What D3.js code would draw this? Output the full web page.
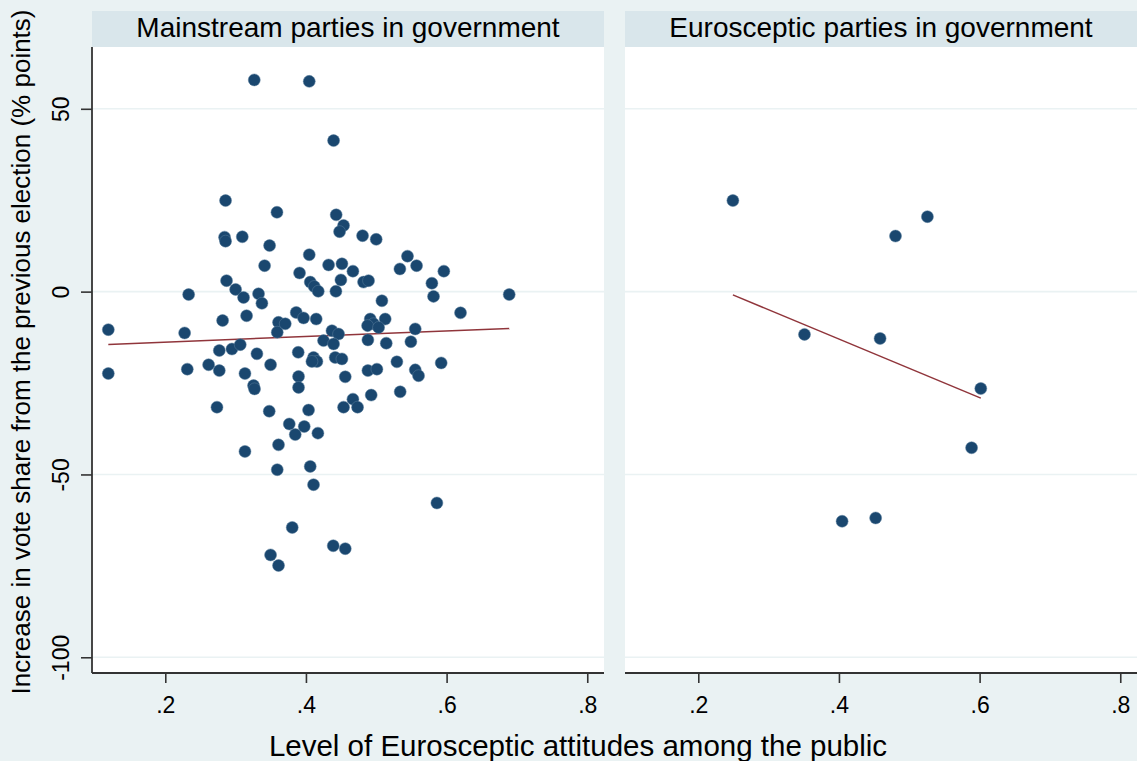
<!DOCTYPE html>
<html>
<head>
<meta charset="utf-8">
<script src="https://cdn.jsdelivr.net/npm/d3@7"></script>
<style>
  html, body { margin: 0; padding: 0; background: #EAF2F3; }
  svg { display: block; }
  text { font-family: "Liberation Sans", Arial, sans-serif; fill: #000; }
</style>
</head>
<body>
<svg id="chart" width="1137" height="761"></svg>
<script>
// Panel titles
const panels = ["Mainstream parties in government", "Eurosceptic parties in government"];

// Mainstream parties: public Euroscepticism (x) vs. change in vote share (y)
const mainX = [
  0.3265, 0.4047, 0.4393, 0.2857, 0.3588, 0.4430, 0.4535, 0.4478, 0.2843, 0.2857,
  0.3095, 0.4805, 0.4999, 0.3483, 0.4047, 0.5444, 0.3412, 0.4322, 0.4512, 0.5573,
  0.5336, 0.4668, 0.5961, 0.3909, 0.4497, 0.2871, 0.4819, 0.4890, 0.4061, 0.4118,
  0.4175, 0.4426, 0.5791, 0.3000, 0.3113, 0.2332, 0.3326, 0.3374, 0.5814, 0.5080,
  0.6890, 0.3156, 0.2815, 0.1190, 0.2275, 0.3862, 0.3966, 0.4146, 0.6198, 0.3610,
  0.3706, 0.3592, 0.4370, 0.4464, 0.4250, 0.4393, 0.5127, 0.4914, 0.4961, 0.4876,
  0.5033, 0.5554, 0.4881, 0.5142, 0.5492, 0.2768, 0.2948, 0.3066, 0.3303, 0.3890,
  0.4108, 0.4156, 0.4085, 0.4416, 0.4512, 0.2616, 0.2768, 0.2313, 0.1190, 0.3497,
  0.3133, 0.3895, 0.3895, 0.3255, 0.3269, 0.4559, 0.5293, 0.5923, 0.4881, 0.5009,
  0.5554, 0.5601, 0.4928, 0.5340, 0.4668, 0.4535, 0.4734, 0.2735, 0.3478, 0.4037,
  0.3763, 0.3976, 0.3848, 0.4170, 0.3610, 0.3133, 0.3592, 0.4061, 0.4108, 0.5862,
  0.3805, 0.4388, 0.4559, 0.3497, 0.3610
];
const mainY = [
  57.9, 57.5, 41.3, 24.9, 21.7, 21.0, 18.1, 16.4, 14.9, 13.8,
  15.0, 15.3, 14.3, 12.6, 10.1, 9.7, 7.1, 7.3, 7.6, 7.1,
  6.2, 5.6, 5.6, 5.1, 3.2, 3.0, 2.6, 3.0, 2.6, 1.4,
  0.1, 0.1, 2.3, 0.6, -1.6, -0.8, -0.6, -3.2, -1.3, -2.5,
  -0.8, -6.6, -7.9, -10.4, -11.3, -5.7, -7.2, -7.5, -5.8, -8.4,
  -8.8, -11.1, -10.7, -11.6, -13.4, -14.3, -7.5, -7.5, -8.8, -9.3,
  -9.8, -10.2, -13.2, -14.1, -13.7, -16.1, -15.7, -14.5, -17.0, -16.6,
  -18.0, -19.1, -19.1, -18.0, -18.4, -20.0, -21.6, -21.2, -22.4, -20.0,
  -22.4, -23.2, -26.2, -25.7, -26.6, -23.3, -19.2, -19.5, -21.6, -21.2,
  -21.4, -23.0, -28.3, -27.4, -29.4, -31.6, -31.6, -31.6, -32.7, -32.4,
  -36.2, -36.9, -39.1, -38.7, -41.9, -43.7, -48.7, -47.8, -52.8, -57.8,
  -64.5, -69.5, -70.3, -72.0, -74.9
];

// Eurosceptic parties
const euroX = [0.2492, 0.5258, 0.4804, 0.3510, 0.4585, 0.6017, 0.5886, 0.4045, 0.4522];
const euroY = [24.9, 20.5, 15.2, -11.7, -12.8, -26.5, -42.7, -62.8, -61.9];

// Axis ticks
const xTicks = [0.2, 0.4, 0.6, 0.8];
const xTickLabels = [".2", ".4", ".6", ".8"];
const yTicks = [50, 0, -50, -100];
const yTickLabels = ["50", "0", "-50", "-100"];

const xTitle = "Level of Eurosceptic attitudes among the public";
const yTitle = "Increase in vote share from the previous election (% points)";

// ---- layout ----
const W = 1137, H = 761;
const plotTop = 47, plotBottom = 673;
const stripTop = 11;
const panelW = 512;
const panelX0 = [92, 625];
const FONT = "Liberation Sans, Arial, sans-serif";

const colors = {
  bg: "#EAF2F3", strip: "#D9E6EB", grid: "#EAF2F3",
  marker: "#1A476F", fit: "#90353B", axis: "#333333"
};

const svg = d3.select("#chart");
svg.append("rect").attr("width", W).attr("height", H).attr("fill", colors.bg);

const y = d3.scaleLinear().domain([-104.3, 66.9]).range([plotBottom, plotTop]);

// least-squares line over the range of x
function linfit(xs, ys) {
  const mx = d3.mean(xs), my = d3.mean(ys);
  let sxy = 0, sxx = 0;
  xs.forEach((v, i) => { sxy += (v - mx) * (ys[i] - my); sxx += (v - mx) ** 2; });
  const b = sxy / sxx, a = my - b * mx;
  const [x0, x1] = d3.extent(xs);
  return [[x0, a + b * x0], [x1, a + b * x1]];
}

const series = [
  { xs: mainX, ys: mainY },
  { xs: euroX, ys: euroY }
];

series.forEach((s, p) => {
  const x0 = panelX0[p];
  const x = d3.scaleLinear().domain([0.0958, 0.8238]).range([x0, x0 + panelW]);
  const g = svg.append("g");

  // title strip
  g.append("rect").attr("x", x0).attr("y", stripTop).attr("width", panelW)
    .attr("height", plotTop - stripTop).attr("fill", colors.strip);
  g.append("text").attr("x", x0 + panelW / 2).attr("y", 37)
    .attr("text-anchor", "middle").attr("font-size", 28).text(panels[p]);

  // plot region
  g.append("rect").attr("x", x0).attr("y", plotTop).attr("width", panelW)
    .attr("height", plotBottom - plotTop).attr("fill", "#fff");

  // horizontal grid
  g.selectAll("line.grid").data(yTicks).join("line").attr("class", "grid")
    .attr("x1", x0).attr("x2", x0 + panelW)
    .attr("y1", d => y(d)).attr("y2", d => y(d))
    .attr("stroke", colors.grid).attr("stroke-width", 1.6);

  // x axis
  const xAxis = d3.axisBottom(x).tickValues(xTicks).tickSize(10)
    .tickFormat((d, i) => xTickLabels[i]);
  const xa = g.append("g").attr("transform", `translate(0,${plotBottom})`).call(xAxis);
  xa.select(".domain").attr("stroke", colors.axis).attr("stroke-width", 1.8)
    .attr("d", `M${x0},0H${x0 + panelW}`);
  xa.selectAll(".tick line").attr("stroke", colors.axis).attr("stroke-width", 1.6);
  xa.selectAll(".tick text").attr("font-size", 23).attr("fill", "#000")
    .attr("font-family", FONT).attr("dy", null).attr("y", 40);

  // y axis on the first panel only
  if (p === 0) {
    const yAxis = d3.axisLeft(y).tickValues(yTicks).tickSize(11)
      .tickFormat((d, i) => yTickLabels[i]);
    const ya = g.append("g").attr("transform", `translate(${x0},0)`).call(yAxis);
    ya.select(".domain").attr("stroke", colors.axis).attr("stroke-width", 1.8)
      .attr("d", `M0,${plotTop}V${plotBottom}`);
    ya.selectAll(".tick line").attr("stroke", colors.axis).attr("stroke-width", 1.6);
    ya.selectAll(".tick text")
      .attr("font-size", 23).attr("fill", "#000")
      .attr("font-family", FONT)
      .attr("text-anchor", "middle").attr("dy", null)
      .attr("dominant-baseline", "central")
      .attr("x", null)
      .attr("transform", "translate(-31,0) rotate(-90)");
  }

  // fitted line
  const fit = linfit(s.xs, s.ys);
  g.append("line")
    .attr("x1", x(fit[0][0])).attr("y1", y(fit[0][1]))
    .attr("x2", x(fit[1][0])).attr("y2", y(fit[1][1]))
    .attr("stroke", colors.fit).attr("stroke-width", 1.5);

  // points
  g.selectAll("circle").data(s.xs.map((v, i) => [v, s.ys[i]])).join("circle")
    .attr("cx", d => x(d[0])).attr("cy", d => y(d[1])).attr("r", 6)
    .attr("fill", colors.marker).attr("stroke", "#5a7e9c").attr("stroke-width", 0.5);
});

// axis titles
svg.append("text").attr("x", 578).attr("y", 756).attr("text-anchor", "middle")
  .attr("font-size", 29.5).text(xTitle);
svg.append("text").attr("transform", "translate(29.5,352) rotate(-90)")
  .attr("text-anchor", "middle")
  .attr("font-size", 26).text(yTitle);
</script>
</body>
</html>
